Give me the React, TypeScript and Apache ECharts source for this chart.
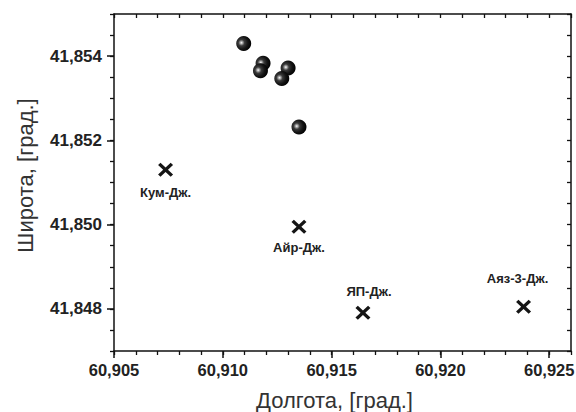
import React, { useEffect, useRef } from "react";
import * as echarts from "echarts";

const X_MIN = 60.905;
const X_MAX = 60.926;
const Y_MIN = 41.847;
const Y_MAX = 41.855;
const xLabelValues = [60.905, 60.91, 60.915, 60.92, 60.925];
const yLabelValues = [41.848, 41.85, 41.852, 41.854];

// measured points (spheres)
const sphereLon = [60.91096, 60.91185, 60.91173, 60.913, 60.91271, 60.9135];
const sphereLat = [41.8543, 41.85383, 41.85365, 41.85372, 41.85347, 41.85232];

// named sites (crosses)
const siteNames = ["Кум-Дж.", "Айр-Дж.", "ЯП-Дж.", "Аяз-3-Дж."];
const siteLon = [60.90737, 60.9135, 60.91644, 60.92382];
const siteLat = [41.8513, 41.84995, 41.84791, 41.84805];

const labelPos = ["bottom", "bottom", "top", "top"];
const labelDist = [9, 7, 8, 15];
const labelOffset = [[0, 0], [0, 0], [6, 0], [-6, 0]];

const FONT = "'Liberation Sans', Arial, sans-serif";
const AXIS_COLOR = "#111";

const crossPath =
  "path://M1.6,0 L5,3.4 L8.4,0 L10,1.6 L6.6,5 L10,8.4 L8.4,10 L5,6.6 L1.6,10 L0,8.4 L3.4,5 L0,1.6 Z";

const fmt = (v: number) => v.toFixed(3).replace(".", ",");

export default function App() {
  const ref = useRef<HTMLDivElement>(null);
  useEffect(() => {
    if (!ref.current) return;
    const chart = echarts.init(ref.current, null, { renderer: "svg" });
    const lineStyle = { color: AXIS_COLOR, width: 1.5 };
    const minorLine = { color: AXIS_COLOR, width: 1.3 };
    const option: any = {
      animation: false,
      backgroundColor: "#fff",
      grid: { left: 114, right: 5, top: 14, bottom: 61, containLabel: false, outerBoundsMode: "none" },
      xAxis: [
        {
          type: "value",
          position: "bottom",
          min: X_MIN,
          max: X_MAX,
          axisLine: { show: true, onZero: false, lineStyle },
          axisTick: { show: true, inside: false, length: 7, lineStyle, customValues: xLabelValues },
          splitLine: { show: false },
          axisLabel: {
            customValues: xLabelValues,
            formatter: fmt,
            fontSize: 16.5,
            fontWeight: "bold",
            fontFamily: FONT,
            color: "#222",
            margin: 10,
            hideOverlap: false,
          },
          name: "Долгота, [град.]",
          nameLocation: "middle",
          nameGap: 38,
          nameTextStyle: { fontSize: 22, fontFamily: FONT, color: "#333", padding: [0, 16, 0, 0] },
        },
        {
          type: "value",
          position: "bottom",
          min: X_MIN,
          max: X_MAX,
          interval: 0.001,
          axisLine: { show: false },
          axisTick: { show: true, inside: false, length: 4, lineStyle: minorLine },
          axisLabel: { show: false },
          splitLine: { show: false },
        },
        {
          type: "value",
          position: "top",
          min: X_MIN,
          max: X_MAX,
          interval: 0.001,
          axisLine: { show: true, onZero: false, lineStyle },
          axisTick: { show: true, inside: true, length: 4, lineStyle: minorLine },
          axisLabel: { show: false },
          splitLine: { show: false },
        },
      ],
      yAxis: [
        {
          type: "value",
          position: "left",
          min: Y_MIN,
          max: Y_MAX,
          axisLine: { show: true, onZero: false, lineStyle },
          axisTick: { show: true, inside: false, length: 7, lineStyle, customValues: yLabelValues },
          axisLabel: {
            customValues: yLabelValues,
            formatter: fmt,
            fontSize: 17,
            fontWeight: "bold",
            fontFamily: FONT,
            color: "#222",
            margin: 12,
          },
          splitLine: { show: false },
          name: "Широта, [град.]",
          nameLocation: "middle",
          nameGap: 78,
          nameTextStyle: { fontSize: 22, fontFamily: FONT, color: "#333", padding: [0, 0, 0, 14] },
        },
        {
          type: "value",
          position: "left",
          min: Y_MIN,
          max: Y_MAX,
          interval: 0.0005,
          axisLine: { show: false },
          axisTick: { show: true, inside: false, length: 4, lineStyle: minorLine },
          axisLabel: { show: false },
          splitLine: { show: false },
        },
        {
          type: "value",
          position: "right",
          min: Y_MIN,
          max: Y_MAX,
          interval: 0.0005,
          axisLine: { show: true, onZero: false, lineStyle },
          axisTick: { show: true, inside: true, length: 4, lineStyle: minorLine },
          axisLabel: { show: false },
          splitLine: { show: false },
        },
      ],
      series: [
        {
          type: "scatter",
          xAxisIndex: 0,
          yAxisIndex: 0,
          symbol: "circle",
          symbolSize: 15,
          data: sphereLon.map((x, i) => [x, sphereLat[i]]),
          itemStyle: {
            opacity: 1,
            color: {
              type: "radial",
              x: 0.35,
              y: 0.45,
              r: 0.65,
              colorStops: [
                { offset: 0, color: "#ffffff" },
                { offset: 0.12, color: "#b0b0b0" },
                { offset: 0.32, color: "#3a3a3a" },
                { offset: 0.65, color: "#141414" },
                { offset: 1, color: "#000000" },
              ],
            },
          },
        },
        {
          type: "scatter",
          xAxisIndex: 0,
          yAxisIndex: 0,
          symbol: crossPath,
          symbolSize: [15, 14],
          itemStyle: { color: "#151515", opacity: 1 },
          data: siteLon.map((x, i) => ({
            value: [x, siteLat[i]],
            name: siteNames[i],
            label: {
              show: true,
              formatter: siteNames[i],
              position: labelPos[i],
              distance: labelDist[i],
              offset: labelOffset[i],
              fontSize: 13,
              fontWeight: "bold",
              fontFamily: FONT,
              color: "#222",
            },
          })),
        },
      ],
    };
    chart.setOption(option);
    return () => chart.dispose();
  }, []);
  return (
    <div
      ref={ref}
      style={{ position: "fixed", left: 0, top: 0, width: 576, height: 412, background: "#fff" }}
    />
  );
}
